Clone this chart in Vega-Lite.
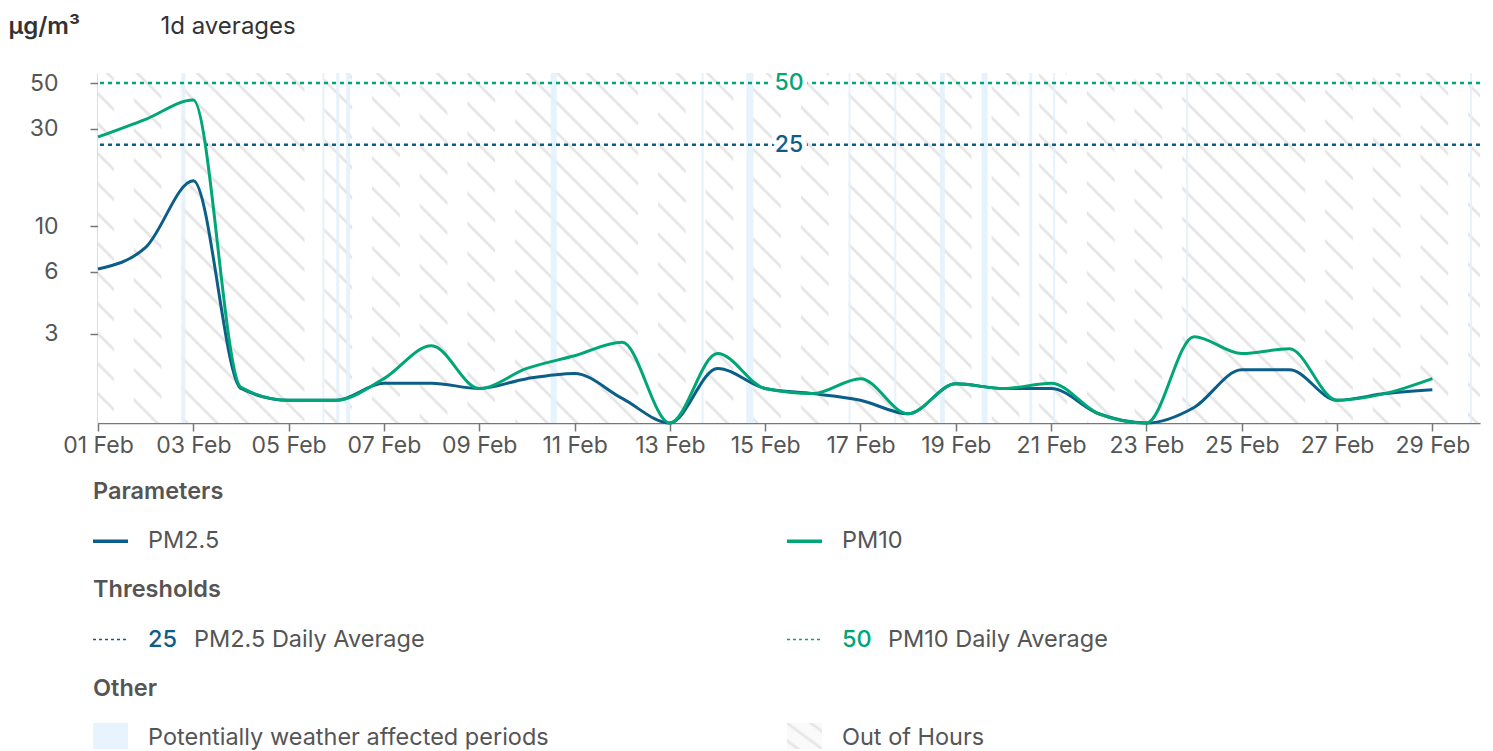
{
  "$schema": "https://vega.github.io/schema/vega-lite/v6.json",
  "background": "white",
  "padding": {"left": 8, "top": 14, "right": 0, "bottom": 0},
  "autosize": {"type": "pad"},
  "bounds": "flush",
  "spacing": 69,
  "config": {"font": "Inter", "view": {"stroke": null}},
  "datasets": {
    "series": [
      {"date": "2024-02-01T00:00:00", "param": "PM2.5", "value": 6.2},
      {"date": "2024-02-02T00:00:00", "param": "PM2.5", "value": 7.9},
      {"date": "2024-02-03T00:00:00", "param": "PM2.5", "value": 16.7},
      {"date": "2024-02-04T00:00:00", "param": "PM2.5", "value": 1.62},
      {"date": "2024-02-05T00:00:00", "param": "PM2.5", "value": 1.42},
      {"date": "2024-02-06T00:00:00", "param": "PM2.5", "value": 1.42},
      {"date": "2024-02-07T00:00:00", "param": "PM2.5", "value": 1.72},
      {"date": "2024-02-08T00:00:00", "param": "PM2.5", "value": 1.72},
      {"date": "2024-02-09T00:00:00", "param": "PM2.5", "value": 1.62},
      {"date": "2024-02-10T00:00:00", "param": "PM2.5", "value": 1.81},
      {"date": "2024-02-11T00:00:00", "param": "PM2.5", "value": 1.92},
      {"date": "2024-02-12T00:00:00", "param": "PM2.5", "value": 1.45},
      {"date": "2024-02-13T00:00:00", "param": "PM2.5", "value": 1.1},
      {"date": "2024-02-14T00:00:00", "param": "PM2.5", "value": 2.03},
      {"date": "2024-02-15T00:00:00", "param": "PM2.5", "value": 1.62},
      {"date": "2024-02-16T00:00:00", "param": "PM2.5", "value": 1.53},
      {"date": "2024-02-17T00:00:00", "param": "PM2.5", "value": 1.42},
      {"date": "2024-02-18T00:00:00", "param": "PM2.5", "value": 1.22},
      {"date": "2024-02-19T00:00:00", "param": "PM2.5", "value": 1.71},
      {"date": "2024-02-20T00:00:00", "param": "PM2.5", "value": 1.62},
      {"date": "2024-02-21T00:00:00", "param": "PM2.5", "value": 1.62},
      {"date": "2024-02-22T00:00:00", "param": "PM2.5", "value": 1.22},
      {"date": "2024-02-23T00:00:00", "param": "PM2.5", "value": 1.1},
      {"date": "2024-02-24T00:00:00", "param": "PM2.5", "value": 1.31},
      {"date": "2024-02-25T00:00:00", "param": "PM2.5", "value": 2.0},
      {"date": "2024-02-26T00:00:00", "param": "PM2.5", "value": 2.0},
      {"date": "2024-02-27T00:00:00", "param": "PM2.5", "value": 1.42},
      {"date": "2024-02-28T00:00:00", "param": "PM2.5", "value": 1.53},
      {"date": "2024-02-29T00:00:00", "param": "PM2.5", "value": 1.6},
      {"date": "2024-02-01T00:00:00", "param": "PM10", "value": 27.3},
      {"date": "2024-02-02T00:00:00", "param": "PM10", "value": 33.3},
      {"date": "2024-02-03T00:00:00", "param": "PM10", "value": 41.3},
      {"date": "2024-02-04T00:00:00", "param": "PM10", "value": 1.64},
      {"date": "2024-02-05T00:00:00", "param": "PM10", "value": 1.42},
      {"date": "2024-02-06T00:00:00", "param": "PM10", "value": 1.42},
      {"date": "2024-02-07T00:00:00", "param": "PM10", "value": 1.81},
      {"date": "2024-02-08T00:00:00", "param": "PM10", "value": 2.62},
      {"date": "2024-02-09T00:00:00", "param": "PM10", "value": 1.62},
      {"date": "2024-02-10T00:00:00", "param": "PM10", "value": 2.03},
      {"date": "2024-02-11T00:00:00", "param": "PM10", "value": 2.34},
      {"date": "2024-02-12T00:00:00", "param": "PM10", "value": 2.72},
      {"date": "2024-02-13T00:00:00", "param": "PM10", "value": 1.1},
      {"date": "2024-02-14T00:00:00", "param": "PM10", "value": 2.4},
      {"date": "2024-02-15T00:00:00", "param": "PM10", "value": 1.62},
      {"date": "2024-02-16T00:00:00", "param": "PM10", "value": 1.53},
      {"date": "2024-02-17T00:00:00", "param": "PM10", "value": 1.81},
      {"date": "2024-02-18T00:00:00", "param": "PM10", "value": 1.22},
      {"date": "2024-02-19T00:00:00", "param": "PM10", "value": 1.71},
      {"date": "2024-02-20T00:00:00", "param": "PM10", "value": 1.62},
      {"date": "2024-02-21T00:00:00", "param": "PM10", "value": 1.72},
      {"date": "2024-02-22T00:00:00", "param": "PM10", "value": 1.22},
      {"date": "2024-02-23T00:00:00", "param": "PM10", "value": 1.1},
      {"date": "2024-02-24T00:00:00", "param": "PM10", "value": 2.9},
      {"date": "2024-02-25T00:00:00", "param": "PM10", "value": 2.4},
      {"date": "2024-02-26T00:00:00", "param": "PM10", "value": 2.53},
      {"date": "2024-02-27T00:00:00", "param": "PM10", "value": 1.42},
      {"date": "2024-02-28T00:00:00", "param": "PM10", "value": 1.53},
      {"date": "2024-02-29T00:00:00", "param": "PM10", "value": 1.81}
    ],
    "thresholds": [
      {"param": "PM2.5", "value": 25, "label": "25"},
      {"param": "PM10", "value": 50, "label": "50"}
    ],
    "outofhours": [
      {"start": "2024-02-01T00:00:00", "end": "2024-03-01T00:00:00"}
    ],
    "inhours": [
      {"start": "2024-02-01T08:00:00", "end": "2024-02-01T18:00:00"},
      {"start": "2024-02-02T08:00:00", "end": "2024-02-02T18:00:00"},
      {"start": "2024-02-05T08:00:00", "end": "2024-02-05T18:00:00"},
      {"start": "2024-02-06T08:00:00", "end": "2024-02-06T18:00:00"},
      {"start": "2024-02-07T08:00:00", "end": "2024-02-07T18:00:00"},
      {"start": "2024-02-08T08:00:00", "end": "2024-02-08T18:00:00"},
      {"start": "2024-02-09T08:00:00", "end": "2024-02-09T18:00:00"},
      {"start": "2024-02-12T08:00:00", "end": "2024-02-12T18:00:00"},
      {"start": "2024-02-13T08:00:00", "end": "2024-02-13T18:00:00"},
      {"start": "2024-02-14T08:00:00", "end": "2024-02-14T18:00:00"},
      {"start": "2024-02-15T08:00:00", "end": "2024-02-15T18:00:00"},
      {"start": "2024-02-16T08:00:00", "end": "2024-02-16T18:00:00"},
      {"start": "2024-02-19T08:00:00", "end": "2024-02-19T18:00:00"},
      {"start": "2024-02-20T08:00:00", "end": "2024-02-20T18:00:00"},
      {"start": "2024-02-21T08:00:00", "end": "2024-02-21T18:00:00"},
      {"start": "2024-02-22T08:00:00", "end": "2024-02-22T18:00:00"},
      {"start": "2024-02-23T08:00:00", "end": "2024-02-23T18:00:00"},
      {"start": "2024-02-26T08:00:00", "end": "2024-02-26T18:00:00"},
      {"start": "2024-02-27T08:00:00", "end": "2024-02-27T18:00:00"},
      {"start": "2024-02-28T08:00:00", "end": "2024-02-28T18:00:00"},
      {"start": "2024-02-29T08:00:00", "end": "2024-02-29T18:00:00"}
    ],
    "weather": [
      {"start": "2024-02-02T18:00:00", "end": "2024-02-02T20:00:00"},
      {"start": "2024-02-05T17:00:00", "end": "2024-02-05T18:00:00"},
      {"start": "2024-02-06T00:00:00", "end": "2024-02-06T01:30:00"},
      {"start": "2024-02-06T05:00:00", "end": "2024-02-06T07:00:00"},
      {"start": "2024-02-10T12:00:00", "end": "2024-02-10T15:00:00"},
      {"start": "2024-02-13T16:00:00", "end": "2024-02-13T17:00:00"},
      {"start": "2024-02-14T14:30:00", "end": "2024-02-14T18:00:00"},
      {"start": "2024-02-16T18:00:00", "end": "2024-02-16T19:00:00"},
      {"start": "2024-02-17T17:00:00", "end": "2024-02-17T18:00:00"},
      {"start": "2024-02-18T16:00:00", "end": "2024-02-18T18:30:00"},
      {"start": "2024-02-19T13:00:00", "end": "2024-02-19T16:00:00"},
      {"start": "2024-02-20T13:00:00", "end": "2024-02-20T14:30:00"},
      {"start": "2024-02-21T01:00:00", "end": "2024-02-21T02:00:00"},
      {"start": "2024-02-23T20:00:00", "end": "2024-02-23T21:00:00"},
      {"start": "2024-02-29T19:00:00", "end": "2024-02-29T20:00:00"}
    ],
    "legend": [
      {"row": "Parameters", "side": "left", "kind": "title", "label": "Parameters"},
      {"row": "Parameters items", "side": "left", "kind": "series", "key": "PM2.5", "label": "PM2.5"},
      {"row": "Parameters items", "side": "right", "kind": "series", "key": "PM10", "label": "PM10"},
      {"row": "Thresholds", "side": "left", "kind": "title", "label": "Thresholds"},
      {"row": "Thresholds items", "side": "left", "kind": "threshold", "key": "PM2.5", "num": "25", "label": "PM2.5 Daily Average"},
      {"row": "Thresholds items", "side": "right", "kind": "threshold", "key": "PM10", "num": "50", "label": "PM10 Daily Average"},
      {"row": "Other", "side": "left", "kind": "title", "label": "Other"},
      {"row": "Other items", "side": "left", "kind": "weather", "label": "Potentially weather affected periods"},
      {"row": "Other items", "side": "right", "kind": "hours", "label": "Out of Hours"}
    ]
  },
  "vconcat": [
    {
      "width": 1382,
      "height": 350,
      "layer": [
        {
          "data": {"name": "outofhours"},
          "mark": {"type": "rect", "fill": {"gradient": "linear", "x1": 0, "y1": 1.0971, "x2": 1.2239, "y2": 0.7871, "stops": [
            {"offset": 0, "color": "#fff"}, {"offset": 0.0018, "color": "#e0e0e0"}, {"offset": 0.0036, "color": "#fff"},
            {"offset": 0.0167, "color": "#fff"}, {"offset": 0.0185, "color": "#e0e0e0"}, {"offset": 0.0203, "color": "#fff"},
            {"offset": 0.0333, "color": "#fff"}, {"offset": 0.0351, "color": "#e0e0e0"}, {"offset": 0.0369, "color": "#fff"},
            {"offset": 0.05, "color": "#fff"}, {"offset": 0.0518, "color": "#e0e0e0"}, {"offset": 0.0536, "color": "#fff"},
            {"offset": 0.0667, "color": "#fff"}, {"offset": 0.0685, "color": "#e0e0e0"}, {"offset": 0.0703, "color": "#fff"},
            {"offset": 0.0833, "color": "#fff"}, {"offset": 0.0851, "color": "#e0e0e0"}, {"offset": 0.0869, "color": "#fff"},
            {"offset": 0.1, "color": "#fff"}, {"offset": 0.1018, "color": "#e0e0e0"}, {"offset": 0.1036, "color": "#fff"},
            {"offset": 0.1167, "color": "#fff"}, {"offset": 0.1185, "color": "#e0e0e0"}, {"offset": 0.1203, "color": "#fff"},
            {"offset": 0.1333, "color": "#fff"}, {"offset": 0.1351, "color": "#e0e0e0"}, {"offset": 0.1369, "color": "#fff"},
            {"offset": 0.15, "color": "#fff"}, {"offset": 0.1518, "color": "#e0e0e0"}, {"offset": 0.1536, "color": "#fff"},
            {"offset": 0.1667, "color": "#fff"}, {"offset": 0.1685, "color": "#e0e0e0"}, {"offset": 0.1703, "color": "#fff"},
            {"offset": 0.1833, "color": "#fff"}, {"offset": 0.1851, "color": "#e0e0e0"}, {"offset": 0.1869, "color": "#fff"},
            {"offset": 0.2, "color": "#fff"}, {"offset": 0.2018, "color": "#e0e0e0"}, {"offset": 0.2036, "color": "#fff"},
            {"offset": 0.2167, "color": "#fff"}, {"offset": 0.2185, "color": "#e0e0e0"}, {"offset": 0.2203, "color": "#fff"},
            {"offset": 0.2333, "color": "#fff"}, {"offset": 0.2351, "color": "#e0e0e0"}, {"offset": 0.2369, "color": "#fff"},
            {"offset": 0.25, "color": "#fff"}, {"offset": 0.2518, "color": "#e0e0e0"}, {"offset": 0.2536, "color": "#fff"},
            {"offset": 0.2667, "color": "#fff"}, {"offset": 0.2685, "color": "#e0e0e0"}, {"offset": 0.2703, "color": "#fff"},
            {"offset": 0.2833, "color": "#fff"}, {"offset": 0.2851, "color": "#e0e0e0"}, {"offset": 0.2869, "color": "#fff"},
            {"offset": 0.3, "color": "#fff"}, {"offset": 0.3018, "color": "#e0e0e0"}, {"offset": 0.3036, "color": "#fff"},
            {"offset": 0.3167, "color": "#fff"}, {"offset": 0.3185, "color": "#e0e0e0"}, {"offset": 0.3203, "color": "#fff"},
            {"offset": 0.3333, "color": "#fff"}, {"offset": 0.3351, "color": "#e0e0e0"}, {"offset": 0.3369, "color": "#fff"},
            {"offset": 0.35, "color": "#fff"}, {"offset": 0.3518, "color": "#e0e0e0"}, {"offset": 0.3536, "color": "#fff"},
            {"offset": 0.3667, "color": "#fff"}, {"offset": 0.3685, "color": "#e0e0e0"}, {"offset": 0.3703, "color": "#fff"},
            {"offset": 0.3833, "color": "#fff"}, {"offset": 0.3851, "color": "#e0e0e0"}, {"offset": 0.3869, "color": "#fff"},
            {"offset": 0.4, "color": "#fff"}, {"offset": 0.4018, "color": "#e0e0e0"}, {"offset": 0.4036, "color": "#fff"},
            {"offset": 0.4167, "color": "#fff"}, {"offset": 0.4185, "color": "#e0e0e0"}, {"offset": 0.4203, "color": "#fff"},
            {"offset": 0.4333, "color": "#fff"}, {"offset": 0.4351, "color": "#e0e0e0"}, {"offset": 0.4369, "color": "#fff"},
            {"offset": 0.45, "color": "#fff"}, {"offset": 0.4518, "color": "#e0e0e0"}, {"offset": 0.4536, "color": "#fff"},
            {"offset": 0.4667, "color": "#fff"}, {"offset": 0.4685, "color": "#e0e0e0"}, {"offset": 0.4703, "color": "#fff"},
            {"offset": 0.4833, "color": "#fff"}, {"offset": 0.4851, "color": "#e0e0e0"}, {"offset": 0.4869, "color": "#fff"},
            {"offset": 0.5, "color": "#fff"}, {"offset": 0.5018, "color": "#e0e0e0"}, {"offset": 0.5036, "color": "#fff"},
            {"offset": 0.5167, "color": "#fff"}, {"offset": 0.5185, "color": "#e0e0e0"}, {"offset": 0.5203, "color": "#fff"},
            {"offset": 0.5333, "color": "#fff"}, {"offset": 0.5351, "color": "#e0e0e0"}, {"offset": 0.5369, "color": "#fff"},
            {"offset": 0.55, "color": "#fff"}, {"offset": 0.5518, "color": "#e0e0e0"}, {"offset": 0.5536, "color": "#fff"},
            {"offset": 0.5667, "color": "#fff"}, {"offset": 0.5685, "color": "#e0e0e0"}, {"offset": 0.5703, "color": "#fff"},
            {"offset": 0.5833, "color": "#fff"}, {"offset": 0.5851, "color": "#e0e0e0"}, {"offset": 0.5869, "color": "#fff"},
            {"offset": 0.6, "color": "#fff"}, {"offset": 0.6018, "color": "#e0e0e0"}, {"offset": 0.6036, "color": "#fff"},
            {"offset": 0.6167, "color": "#fff"}, {"offset": 0.6185, "color": "#e0e0e0"}, {"offset": 0.6203, "color": "#fff"},
            {"offset": 0.6333, "color": "#fff"}, {"offset": 0.6351, "color": "#e0e0e0"}, {"offset": 0.6369, "color": "#fff"},
            {"offset": 0.65, "color": "#fff"}, {"offset": 0.6518, "color": "#e0e0e0"}, {"offset": 0.6536, "color": "#fff"},
            {"offset": 0.6667, "color": "#fff"}, {"offset": 0.6685, "color": "#e0e0e0"}, {"offset": 0.6703, "color": "#fff"},
            {"offset": 0.6833, "color": "#fff"}, {"offset": 0.6851, "color": "#e0e0e0"}, {"offset": 0.6869, "color": "#fff"},
            {"offset": 0.7, "color": "#fff"}, {"offset": 0.7018, "color": "#e0e0e0"}, {"offset": 0.7036, "color": "#fff"},
            {"offset": 0.7167, "color": "#fff"}, {"offset": 0.7185, "color": "#e0e0e0"}, {"offset": 0.7203, "color": "#fff"},
            {"offset": 0.7333, "color": "#fff"}, {"offset": 0.7351, "color": "#e0e0e0"}, {"offset": 0.7369, "color": "#fff"},
            {"offset": 0.75, "color": "#fff"}, {"offset": 0.7518, "color": "#e0e0e0"}, {"offset": 0.7536, "color": "#fff"},
            {"offset": 0.7667, "color": "#fff"}, {"offset": 0.7685, "color": "#e0e0e0"}, {"offset": 0.7703, "color": "#fff"},
            {"offset": 0.7833, "color": "#fff"}, {"offset": 0.7851, "color": "#e0e0e0"}, {"offset": 0.7869, "color": "#fff"},
            {"offset": 0.8, "color": "#fff"}, {"offset": 0.8018, "color": "#e0e0e0"}, {"offset": 0.8036, "color": "#fff"},
            {"offset": 0.8167, "color": "#fff"}, {"offset": 0.8185, "color": "#e0e0e0"}, {"offset": 0.8203, "color": "#fff"},
            {"offset": 0.8333, "color": "#fff"}, {"offset": 0.8351, "color": "#e0e0e0"}, {"offset": 0.8369, "color": "#fff"},
            {"offset": 0.85, "color": "#fff"}, {"offset": 0.8518, "color": "#e0e0e0"}, {"offset": 0.8536, "color": "#fff"},
            {"offset": 0.8667, "color": "#fff"}, {"offset": 0.8685, "color": "#e0e0e0"}, {"offset": 0.8703, "color": "#fff"},
            {"offset": 0.8833, "color": "#fff"}, {"offset": 0.8851, "color": "#e0e0e0"}, {"offset": 0.8869, "color": "#fff"},
            {"offset": 0.9, "color": "#fff"}, {"offset": 0.9018, "color": "#e0e0e0"}, {"offset": 0.9036, "color": "#fff"},
            {"offset": 0.9167, "color": "#fff"}, {"offset": 0.9185, "color": "#e0e0e0"}, {"offset": 0.9203, "color": "#fff"},
            {"offset": 0.9333, "color": "#fff"}, {"offset": 0.9351, "color": "#e0e0e0"}, {"offset": 0.9369, "color": "#fff"},
            {"offset": 0.95, "color": "#fff"}, {"offset": 0.9518, "color": "#e0e0e0"}, {"offset": 0.9536, "color": "#fff"},
            {"offset": 0.9667, "color": "#fff"}, {"offset": 0.9685, "color": "#e0e0e0"}, {"offset": 0.9703, "color": "#fff"},
            {"offset": 0.9833, "color": "#fff"}, {"offset": 0.9851, "color": "#e0e0e0"}, {"offset": 0.9869, "color": "#fff"},
            {"offset": 1, "color": "#fff"}
          ]}},
          "encoding": {
            "x": {
              "field": "start", "type": "temporal",
              "scale": {"domain": [{"year": 2024, "month": 2, "date": 1}, {"year": 2024, "month": 3, "date": 1}], "nice": false},
              "axis": {
                "values": [
                  {"year": 2024, "month": 2, "date": 1}, {"year": 2024, "month": 2, "date": 3}, {"year": 2024, "month": 2, "date": 5},
                  {"year": 2024, "month": 2, "date": 7}, {"year": 2024, "month": 2, "date": 9}, {"year": 2024, "month": 2, "date": 11},
                  {"year": 2024, "month": 2, "date": 13}, {"year": 2024, "month": 2, "date": 15}, {"year": 2024, "month": 2, "date": 17},
                  {"year": 2024, "month": 2, "date": 19}, {"year": 2024, "month": 2, "date": 21}, {"year": 2024, "month": 2, "date": 23},
                  {"year": 2024, "month": 2, "date": 25}, {"year": 2024, "month": 2, "date": 27}, {"year": 2024, "month": 2, "date": 29}
                ],
                "format": "%d %b", "labelFlush": false, "labelOverlap": false, "labelFontSize": 23, "labelColor": "#555555", "labelPadding": 3,
                "tickSize": 8, "tickColor": "#777777", "tickWidth": 1.5, "domainColor": "#777777", "domainWidth": 1.5, "grid": false,
                "title": "1d averages", "titleX": 62, "titleY": -397, "titleAlign": "left", "titleBaseline": "middle", "titleAngle": 0,
                "titleFontSize": 24, "titleFontWeight": "normal", "titleColor": "#333333"
              }
            },
            "x2": {"field": "end"}
          }
        },
        {
          "data": {"name": "inhours"},
          "mark": {"type": "rect", "fill": "#ffffff"},
          "encoding": {
            "x": {"field": "start", "type": "temporal"},
            "x2": {"field": "end"}
          }
        },
        {
          "data": {"name": "weather"},
          "mark": {"type": "rect", "fill": "#e3f1fc", "opacity": 0.9},
          "encoding": {
            "x": {"field": "start", "type": "temporal"},
            "x2": {"field": "end"}
          }
        },
        {
          "data": {"name": "thresholds"},
          "mark": {"type": "rule", "strokeDash": [4, 4], "strokeWidth": 2.5},
          "encoding": {
            "y": {
              "field": "value", "type": "quantitative",
              "scale": {"type": "log", "domain": [1.1, 56], "nice": false},
              "axis": {
                "values": [3, 6, 10, 30, 50], "format": "d", "labelFontSize": 23, "labelColor": "#555555", "labelPadding": 32,
                "tickSize": 8, "tickColor": "#777777", "tickWidth": 1.5, "domainColor": "#777777", "domainWidth": 1.5, "grid": false,
                "title": "µg/m³", "titleAngle": 0, "titleX": -90, "titleY": -47, "titleAlign": "left", "titleBaseline": "middle",
                "titleFontSize": 24, "titleFontWeight": 600, "titleColor": "#333333"
              }
            },
            "color": {"field": "param", "type": "nominal", "scale": {"domain": ["PM2.5", "PM10"], "range": ["#0b5e87", "#00a676"]}, "legend": null}
          }
        },
        {
          "data": {"name": "thresholds"},
          "mark": {"type": "text", "fontSize": 23, "fontWeight": 500, "fill": "#ffffff", "stroke": "#ffffff", "strokeWidth": 10, "strokeJoin": "round", "baseline": "middle", "align": "center"},
          "encoding": {
            "x": {"datum": {"year": 2024, "month": 2, "date": 15, "hours": 12}, "type": "temporal"},
            "y": {"field": "value", "type": "quantitative"},
            "text": {"field": "label"}
          }
        },
        {
          "data": {"name": "thresholds"},
          "mark": {"type": "text", "fontSize": 23, "fontWeight": 500, "baseline": "middle", "align": "center"},
          "encoding": {
            "x": {"datum": {"year": 2024, "month": 2, "date": 15, "hours": 12}, "type": "temporal"},
            "y": {"field": "value", "type": "quantitative"},
            "text": {"field": "label"},
            "color": {"field": "param", "type": "nominal", "legend": null}
          }
        },
        {
          "data": {"name": "series"},
          "mark": {"type": "line", "interpolate": "monotone", "strokeWidth": 3},
          "encoding": {
            "x": {"field": "date", "type": "temporal"},
            "y": {"field": "value", "type": "quantitative"},
            "color": {"field": "param", "type": "nominal", "legend": null}
          }
        }
      ]
    },
    {
      "width": 1382,
      "height": 246,
      "data": {"name": "legend"},
      "encoding": {
        "x": {"field": "side", "type": "nominal", "scale": {"type": "point", "domain": ["left", "right"], "range": [-5, 689], "padding": 0}, "axis": null},
        "y": {"field": "row", "type": "nominal", "scale": {"type": "point", "domain": ["Parameters", "Parameters items", "Thresholds", "Thresholds items", "Other", "Other items"], "range": [0, 246], "padding": 0}, "axis": null}
      },
      "layer": [
        {
          "transform": [{"filter": "datum.kind === 'title'"}],
          "mark": {"type": "text", "align": "left", "baseline": "middle", "fontSize": 23.5, "fontWeight": 600, "fill": "#555555"},
          "encoding": {"text": {"field": "label"}}
        },
        {
          "transform": [{"filter": "datum.kind === 'series'"}],
          "mark": {"type": "point", "shape": "stroke", "size": 1225, "strokeWidth": 3.5, "filled": false, "opacity": 1, "xOffset": 17.5},
          "encoding": {"stroke": {"field": "key", "type": "nominal", "scale": {"domain": ["PM2.5", "PM10"], "range": ["#0b5e87", "#00a676"]}, "legend": null}}
        },
        {
          "transform": [{"filter": "datum.kind === 'threshold'"}],
          "mark": {"type": "point", "shape": "stroke", "size": 1225, "strokeWidth": 1.5, "strokeDash": [3, 3], "filled": false, "opacity": 1, "xOffset": 17.5},
          "encoding": {"stroke": {"field": "key", "type": "nominal", "legend": null}}
        },
        {
          "transform": [{"filter": "datum.kind === 'weather'"}],
          "mark": {"type": "point", "shape": "M-1,-0.743L1,-0.743L1,0.743L-1,0.743Z", "size": 1225, "filled": true, "fill": "#e8f4fd", "strokeWidth": 0, "opacity": 1, "xOffset": 17.5, "yOffset": -2}
        },
        {
          "transform": [{"filter": "datum.kind === 'hours'"}],
          "mark": {"type": "point", "shape": "M-1,-0.743L1,-0.743L1,0.743L-1,0.743Z", "size": 1225, "filled": true, "strokeWidth": 0, "opacity": 1, "xOffset": 17.5, "yOffset": -2,
            "fill": {"gradient": "linear", "x1": 0, "y1": 1, "x2": 1, "y2": 0, "stops": [
              {"offset": 0, "color": "#f7f7f7"}, {"offset": 0.1, "color": "#fafafa"}, {"offset": 0.16, "color": "#e4e4e4"}, {"offset": 0.22, "color": "#fafafa"},
              {"offset": 0.44, "color": "#fafafa"}, {"offset": 0.5, "color": "#e4e4e4"}, {"offset": 0.56, "color": "#fafafa"},
              {"offset": 0.78, "color": "#fafafa"}, {"offset": 0.84, "color": "#e4e4e4"}, {"offset": 0.9, "color": "#fafafa"}, {"offset": 1, "color": "#f7f7f7"}
            ]}}
        },
        {
          "transform": [{"filter": "datum.kind === 'series' || datum.kind === 'weather' || datum.kind === 'hours'"}],
          "mark": {"type": "text", "align": "left", "baseline": "middle", "dx": 55, "fontSize": 23.5, "fill": "#555555"},
          "encoding": {"text": {"field": "label"}}
        },
        {
          "transform": [{"filter": "datum.kind === 'threshold'"}],
          "mark": {"type": "text", "align": "left", "baseline": "middle", "dx": 55, "fontSize": 23.5, "fontWeight": 500},
          "encoding": {"text": {"field": "num"}, "color": {"field": "key", "type": "nominal", "scale": {"domain": ["PM2.5", "PM10"], "range": ["#0b5e87", "#00a676"]}, "legend": null}}
        },
        {
          "transform": [{"filter": "datum.kind === 'threshold'"}],
          "mark": {"type": "text", "align": "left", "baseline": "middle", "dx": 101, "fontSize": 23.5, "fill": "#555555"},
          "encoding": {"text": {"field": "label"}}
        }
      ]
    }
  ],
  "resolve": {"scale": {"x": "independent", "y": "independent", "color": "independent", "stroke": "independent"}}
}
